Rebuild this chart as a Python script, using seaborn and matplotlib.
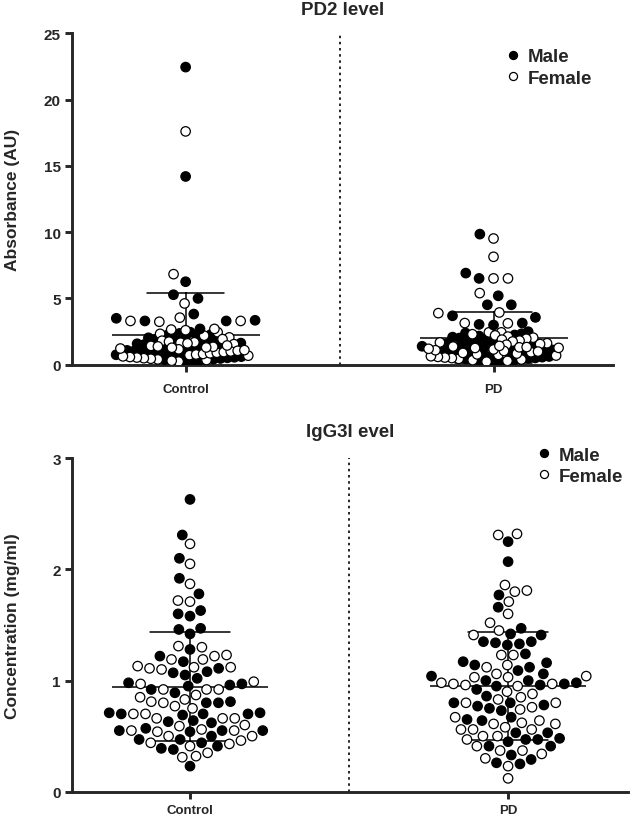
import numpy as np
import pandas as pd
import matplotlib
matplotlib.use("Agg")
import matplotlib.pyplot as plt
import seaborn as sns

groups = ["Control", "PD"]
sexes = ["Male", "Female"]

# ---- PD2 level (Absorbance, AU) ----
pd2_control_male = [22.45, 14.2, 6.26, 5.28, 5.0, 3.82, 3.5, 3.3, 3.3, 3.35, 2.7, 2.45,
                    2.36, 2.29, 2.22, 2.16, 2.09, 2.03, 1.97, 1.90, 1.84, 1.77, 1.71, 1.63, 1.58, 1.52,
                    0.21, 0.27, 0.33, 0.38, 0.42, 0.47, 0.52, 0.56, 0.61, 0.66, 0.70, 0.75,
                    0.79, 0.84, 0.88, 0.93, 0.98, 1.03, 1.08, 1.13, 1.19, 1.25, 1.32, 1.40]
pd2_control_female = [17.6, 6.83, 4.62, 3.24, 3.3, 3.3, 3.55, 2.6, 2.7, 2.65, 2.45,
                      2.33, 2.19, 2.06, 1.93, 1.81, 1.74, 1.69, 1.66, 1.61, 1.55,
                      0.24, 0.30, 0.35, 0.40, 0.45, 0.49, 0.54, 0.58, 0.63, 0.68, 0.72, 0.77,
                      0.81, 0.86, 0.90, 0.95, 1.00, 1.05, 1.10, 1.16, 1.22, 1.28, 1.35, 1.42,
                      1.45, 1.38, 1.30]
pd2_pd_male = [9.85, 6.91, 6.51, 5.20, 4.52, 4.52, 3.69, 3.57, 3.14, 2.99, 3.04, 2.49, 2.39,
               2.33, 2.24, 2.16, 2.08, 2.01, 1.93, 1.86, 1.79, 1.72, 1.66, 1.59, 1.53,
               0.19, 0.26, 0.31, 0.36, 0.43, 0.48, 0.51, 0.57, 0.62, 0.67, 0.71, 0.76,
               0.82, 0.87, 0.91, 0.96, 1.01, 1.07, 1.12, 1.18, 1.23, 1.29, 1.34, 1.39, 1.44]
pd2_pd_female = [9.52, 8.14, 6.51, 6.51, 5.40, 3.94, 3.89, 3.12, 3.14, 2.44, 2.44,
                 2.30, 2.21, 2.12, 2.04, 1.96, 1.89, 1.82, 1.75, 1.68, 1.62, 1.56, 1.51,
                 0.23, 0.29, 0.34, 0.39, 0.44, 0.50, 0.54, 0.59, 0.64, 0.69, 0.74, 0.78,
                 0.84, 0.89, 0.94, 0.99, 1.04, 1.09, 1.15, 1.20, 1.26, 1.31, 1.37, 1.42,
                 1.33, 1.27]

# ---- IgG3 level (Concentration, mg/ml) ----
igg3_control_male = [2.63, 2.31, 2.10, 1.92, 1.78, 1.63, 1.60, 1.58, 1.47, 1.46, 1.42, 1.28,
                     1.22, 1.17, 1.11, 1.08, 1.07, 1.05, 1.02, 0.98, 0.97, 0.96, 0.95, 0.92,
                     0.89, 0.81, 0.80, 0.80, 0.71, 0.70, 0.70, 0.69, 0.70, 0.71, 0.64, 0.63,
                     0.62, 0.57, 0.55, 0.55, 0.54, 0.55, 0.50, 0.47, 0.47, 0.44, 0.41, 0.39,
                     0.38, 0.23]
igg3_control_female = [2.23, 2.05, 1.87, 1.72, 1.71, 1.31, 1.30, 1.23, 1.22, 1.19, 1.19, 1.13,
                       1.12, 1.12, 1.11, 1.10, 0.99, 0.97, 0.92, 0.92, 0.92, 0.87, 0.85, 0.83,
                       0.81, 0.80, 0.77, 0.75, 0.70, 0.70, 0.66, 0.66, 0.66, 0.60, 0.59, 0.56,
                       0.55, 0.55, 0.54, 0.50, 0.50, 0.46, 0.44, 0.43, 0.41, 0.35, 0.32, 0.31]
igg3_pd_male = [2.25, 2.07, 1.77, 1.66, 1.47, 1.42, 1.41, 1.35, 1.35, 1.34, 1.33, 1.32, 1.24,
                1.17, 1.16, 1.14, 1.12, 1.09, 1.06, 1.04, 1.00, 1.00, 0.98, 0.97, 0.96, 0.95,
                0.92, 0.86, 0.80, 0.80, 0.78, 0.77, 0.75, 0.73, 0.67, 0.65, 0.64, 0.53, 0.53,
                0.48, 0.47, 0.47, 0.45, 0.41, 0.41, 0.33, 0.29, 0.26, 0.25]
igg3_pd_female = [2.32, 2.31, 1.86, 1.81, 1.80, 1.71, 1.60, 1.52, 1.45, 1.41, 1.23, 1.23, 1.14,
                  1.12, 1.06, 1.04, 1.03, 1.03, 0.98, 0.97, 0.97, 0.96, 0.95, 0.90, 0.88, 0.85,
                  0.83, 0.80, 0.80, 0.76, 0.74, 0.67, 0.64, 0.62, 0.61, 0.61, 0.58, 0.56, 0.56,
                  0.56, 0.50, 0.50, 0.47, 0.41, 0.37, 0.37, 0.34, 0.30, 0.23, 0.12]


def long_table(cm, cf, pm, pf):
    rows = []
    for grp, sex, vals in [("Control", "Male", cm), ("Control", "Female", cf),
                           ("PD", "Male", pm), ("PD", "Female", pf)]:
        for v in vals:
            rows.append((grp, sex, v))
    return pd.DataFrame(rows, columns=["group", "sex", "value"])


df_pd2 = long_table(pd2_control_male, pd2_control_female, pd2_pd_male, pd2_pd_female)
df_igg3 = long_table(igg3_control_male, igg3_control_female, igg3_pd_male, igg3_pd_female)

sns.set_style("ticks")
plt.rcParams["font.family"] = ["Liberation Sans", "DejaVu Sans"]
plt.rcParams["font.weight"] = "bold"
plt.rcParams["axes.labelweight"] = "bold"
plt.rcParams["axes.titleweight"] = "bold"

W, H = 630, 820
fig = plt.figure(figsize=(W / 100, H / 100), dpi=100)

DOT = 6.8  # displayed marker diameter (pt)


def panel(rect, df, layers, title, title_pad, ylabel, ymax, yticks, xlim,
          mean_width, legend_anchor, ylabel_x, xpad):
    ax = fig.add_axes(rect)
    for i, (sub, layout_size) in enumerate(layers):
        sns.swarmplot(data=sub, x="group", y="value", hue="sex", order=groups,
                      hue_order=sexes, palette={"Male": "black", "Female": "white"},
                      size=layout_size, edgecolor="black", linewidth=0.9, ax=ax,
                      warn_thresh=1.0, legend=(i == 0))
    sns.pointplot(data=df, x="group", y="value", order=groups, errorbar="sd",
                  capsize=0.25, color="black", markers="_", linestyle="none",
                  markersize=mean_width, markeredgewidth=1.1, linewidth=1.1, ax=ax)
    ax.axvline(0.5, color="black", lw=1.2, ls=(0, (1.5, 2.2)), zorder=0)
    ax.set_xlim(*xlim)
    ax.set_ylim(0, ymax)
    ax.set_yticks(yticks)
    ax.set_xlabel("")
    ax.set_ylabel(ylabel, fontsize=12.5)
    ax.yaxis.set_label_coords(ylabel_x, 0.5)
    ax.set_title(title, fontsize=13.5, pad=title_pad)
    for s in ["top", "right"]:
        ax.spines[s].set_visible(False)
    for s in ["left", "bottom"]:
        ax.spines[s].set_linewidth(2.1)
    ax.tick_params(axis="y", direction="out", length=5, width=2.1, labelsize=11, pad=3)
    ax.tick_params(axis="x", direction="out", length=5, width=2.1, labelsize=9.5, pad=xpad)

    leg = ax.get_legend()
    handles = list(leg.legend_handles)
    labels = [t.get_text() for t in leg.get_texts()]
    leg.remove()
    new_leg = ax.legend(handles, labels, loc="upper left", bbox_to_anchor=legend_anchor,
                        frameon=False, borderpad=0, borderaxespad=0, handlelength=0.8,
                        handletextpad=0.35, labelspacing=0.22,
                        prop={"size": 13.5, "weight": "bold"})
    for h in new_leg.legend_handles:
        h.set_markersize(5.8)
        h.set_markeredgecolor("black")
        h.set_markeredgewidth(0.9)
    return ax


# PD2: the crowded low values are packed tighter than the sparse high values
pd2_low = df_pd2[df_pd2["value"] < 2.5]
pd2_high = df_pd2[df_pd2["value"] >= 2.5]

ax1 = panel([72 / W, 1 - 365.7 / H, 541 / W, 331.4 / H], df_pd2,
            [(pd2_low, 3.9), (pd2_high, 9.0)], "PD2 level", 14,
            "Absorbance (AU)", 25, [0, 5, 10, 15, 20, 25], (-0.369, 1.388), 106,
            (0.802, 0.955), -0.0958, 8)
ax2 = panel([72 / W, 1 - 792.7 / H, 556 / W, 333.4 / H], df_igg3,
            [(df_igg3, 7.4)], "IgG3l evel", 16,
            "Concentration (mg/ml)", 3, [0, 1, 2, 3], (-0.371, 1.377), 113,
            (0.836, 1.035), -0.0935, 3.5)

# compute swarm layout once, then freeze positions and set the displayed dot size
fig.canvas.draw()
for ax in (ax1, ax2):
    for coll in ax.collections:
        if "draw" in vars(coll):
            del coll.draw
            coll.set_sizes([DOT ** 2])

fig.savefig("out.png", dpi=100)
